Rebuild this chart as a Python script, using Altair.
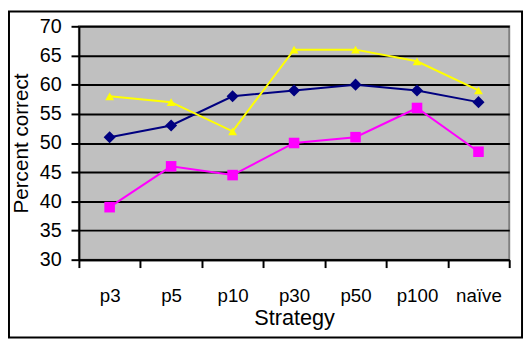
import altair as alt
import pandas as pd

categories = ["p3", "p5", "p10", "p30", "p50", "p100", "naïve"]
series_names = ["Navy", "Magenta", "Yellow"]
navy = [51, 53, 58, 59, 60, 59, 57]
magenta = [39, 46, 44.5, 50, 51, 56, 48.5]
yellow = [58, 57, 52, 66, 66, 64, 59]
y_ticks = [30, 35, 40, 45, 50, 55, 60, 65, 70]

rows = []
for name, vals in zip(series_names, [navy, magenta, yellow]):
    for c, v in zip(categories, vals):
        rows.append({"Strategy": c, "value": v, "series": name})
df = pd.DataFrame(rows)

FONT = "Liberation Sans"
W, H = 437, 237

x_enc = alt.X(
    "Strategy:N",
    sort=categories,
    bandPosition=0.5,
    scale=alt.Scale(type="band", paddingInner=0, paddingOuter=0),
    axis=alt.Axis(
        title="Strategy",
        tickBand="extent",
        labelAngle=0,
        labelFont=FONT,
        labelFontSize=19,
        labelColor="black",
        labelPadding=19,
        tickSize=8,
        tickWidth=2,
        tickColor="black",
        domainColor="black",
        domainWidth=2,
        grid=False,
        titleFont=FONT,
        titleFontSize=22,
        titleFontWeight="normal",
        titleColor="black",
        titleBaseline="alphabetic",
        titleY=66,
        titleX=W / 2,
        titleAlign="center",
    ),
)
y_enc = alt.Y(
    "value:Q",
    scale=alt.Scale(domain=[30, 70], nice=False, zero=False),
    axis=alt.Axis(
        title="Percent correct",
        values=y_ticks,
        labelFont=FONT,
        labelFontSize=20,
        labelColor="black",
        labelPadding=10,
        tickSize=8,
        tickWidth=2,
        tickColor="black",
        domainColor="black",
        domainWidth=2,
        grid=True,
        gridColor="black",
        gridWidth=2,
        gridOpacity=1,
        titleFont=FONT,
        titleFontSize=21,
        titleFontWeight="normal",
        titleColor="black",
        titleAngle=-90,
        titleX=-58,
        titleY=H / 2,
        titleAlign="center",
        titleBaseline="middle",
    ),
)
color = alt.Color(
    "series:N",
    scale=alt.Scale(domain=series_names, range=["#000080", "#FF00FF", "#FFFF00"]),
    legend=None,
)
shape = alt.Shape(
    "series:N",
    scale=alt.Scale(domain=series_names, range=["diamond", "square", "triangle-up"]),
    legend=None,
)
size = alt.Size(
    "series:N",
    scale=alt.Scale(domain=series_names, range=[150, 80, 180]),
    legend=None,
)

base = alt.Chart(df)
lines = base.mark_line(strokeWidth=2).encode(x=x_enc, y=y_enc, color=color, detail="series:N")
points = base.mark_point(filled=True, opacity=1).encode(
    x=x_enc, y=y_enc, color=color, shape=shape, size=size
)

frame = alt.Chart(alt.Data(values=[{}])).mark_rect(
    fill=None, fillOpacity=0, stroke="black", strokeWidth=2
).encode(
    x=alt.value(-71), x2=alt.value(W + 13), y=alt.value(-15), y2=alt.value(H + 79)
)

chart = (
    alt.layer(lines, points, frame)
    .properties(
        width=W,
        height=H,
        autosize=alt.AutoSizeParams(type="none"),
        padding={"left": 72, "top": 16, "right": 15, "bottom": 81},
        background="white",
    )
    .configure_view(fill="#C0C0C0", stroke="#808080", strokeWidth=2)
)

chart.save("out.html", embed_options={"renderer": "svg", "actions": False})
